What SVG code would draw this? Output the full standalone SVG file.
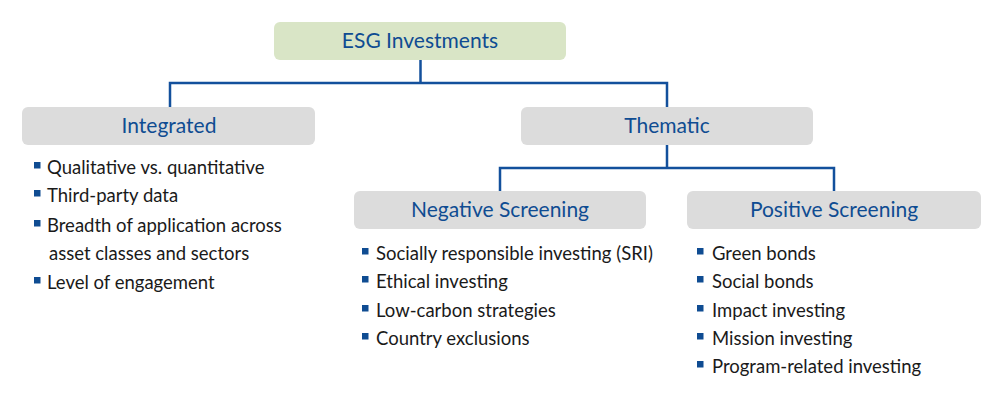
<svg xmlns="http://www.w3.org/2000/svg" width="1000" height="400" viewBox="0 0 1000 400">
<style>
.box{fill:#dcdcdc}
.root{fill:#d9e5c6}
.hd{font-family:Lato,"Liberation Sans",sans-serif;font-size:21px;fill:#0f4c92;text-anchor:middle}
.it{font-family:Lato,"Liberation Sans",sans-serif;font-size:18.5px;fill:#1a1a1a}
.bl{fill:#0f4c92}
.cn{fill:none;stroke:#13509c;stroke-width:2.5}
</style>
<rect width="1000" height="400" fill="#ffffff"/>
<g id="connectors">
<path class="cn" d="M420.5 60 V83 M170 107 V83 H667 V107 M667 145 V168 M500 191 V168 H834 V191"/>
</g>
<g id="esg">
<rect class="root" x="274" y="22" width="292" height="38" rx="6"/>
<text class="hd" x="420" y="48">ESG Investments</text>
</g>
<g id="integrated">
<rect class="box" x="22" y="107" width="293" height="38" rx="6"/>
<text class="hd" x="169" y="133">Integrated</text>
<rect class="bl" x="34" y="162" width="6.5" height="6.5"/>
<text class="it" x="47" y="174">Qualitative vs. quantitative</text>
<rect class="bl" x="34" y="190" width="6.5" height="6.5"/>
<text class="it" x="47" y="202">Third-party data</text>
<rect class="bl" x="34" y="220" width="6.5" height="6.5"/>
<text class="it" x="47" y="232">Breadth of application across</text>
<text class="it" x="49" y="260">asset classes and sectors</text>
<rect class="bl" x="34" y="277" width="6.5" height="6.5"/>
<text class="it" x="47" y="289">Level of engagement</text>
</g>
<g id="thematic">
<rect class="box" x="521" y="107" width="292" height="38" rx="6"/>
<text class="hd" x="667" y="133">Thematic</text>
</g>
<g id="negative">
<rect class="box" x="354" y="191" width="292" height="38" rx="6"/>
<text class="hd" x="500" y="217">Negative Screening</text>
<rect class="bl" x="362" y="248" width="6.5" height="6.5"/>
<text class="it" x="376" y="260">Socially responsible investing (SRI)</text>
<rect class="bl" x="362" y="276" width="6.5" height="6.5"/>
<text class="it" x="376" y="288">Ethical investing</text>
<rect class="bl" x="362" y="305" width="6.5" height="6.5"/>
<text class="it" x="376" y="317">Low-carbon strategies</text>
<rect class="bl" x="362" y="333" width="6.5" height="6.5"/>
<text class="it" x="376" y="345">Country exclusions</text>
</g>
<g id="positive">
<rect class="box" x="687" y="191" width="294" height="38" rx="6"/>
<text class="hd" x="834" y="217">Positive Screening</text>
<rect class="bl" x="697" y="248" width="6.5" height="6.5"/>
<text class="it" x="712" y="260">Green bonds</text>
<rect class="bl" x="697" y="276" width="6.5" height="6.5"/>
<text class="it" x="712" y="288">Social bonds</text>
<rect class="bl" x="697" y="305" width="6.5" height="6.5"/>
<text class="it" x="712" y="317">Impact investing</text>
<rect class="bl" x="697" y="333" width="6.5" height="6.5"/>
<text class="it" x="712" y="345">Mission investing</text>
<rect class="bl" x="697" y="361" width="6.5" height="6.5"/>
<text class="it" x="712" y="373">Program-related investing</text>
</g>
</svg>
